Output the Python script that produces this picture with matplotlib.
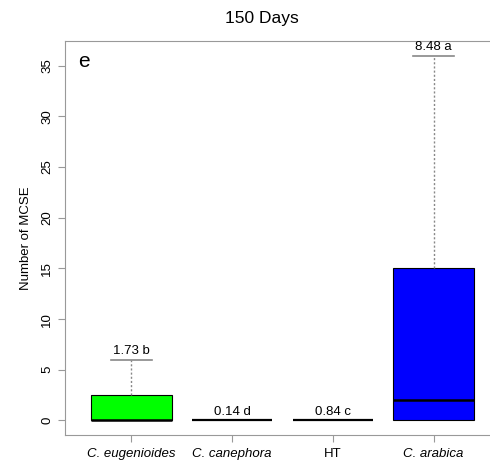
import matplotlib
matplotlib.use("Agg")
import matplotlib.pyplot as plt

plt.rcParams['font.family'] = ['Liberation Sans', 'DejaVu Sans']

groups = ["C. eugenioides", "C. canephora", "HT", "C. arabica"]
italic = [True, True, False, True]
q1 = [0, 0, 0, 0]
med = [0, 0, 0, 2]
q3 = [2.5, 0, 0, 15]
whislo = [0, 0, 0, 0]
whishi = [6, 0, 0, 36]
means = ["1.73 b", "0.14 d", "0.84 c", "8.48 a"]
colors = ["#00ff00", "white", "white", "#0000ff"]

fig = plt.figure(figsize=(4.9, 4.65), dpi=100)
# right edge of the plot region lies past the image, as in the reference
ax = fig.add_axes([65 / 490, 30 / 465, 435 / 490, 394 / 465])

stats = []
for i in range(len(groups)):
    stats.append({"q1": q1[i], "med": med[i], "q3": q3[i],
                  "whislo": whislo[i], "whishi": whishi[i], "fliers": []})

bp = ax.bxp(stats, positions=range(1, 5), widths=0.8, patch_artist=True,
            showfliers=False,
            boxprops=dict(edgecolor="black", linewidth=0.8),
            medianprops=dict(color="black", linewidth=1.8),
            whiskerprops=dict(color="#888888", linestyle=(0, (1.5, 1.5)), linewidth=1),
            capprops=dict(color="#888888", linewidth=1.2),
            capwidths=0.4)
for patch, c in zip(bp["boxes"], colors):
    patch.set_facecolor(c)
for i in range(len(groups)):
    # lower whisker collapses onto q1
    if whislo[i] == q1[i]:
        bp["caps"][2 * i].set_visible(False)
        bp["whiskers"][2 * i].set_visible(False)
    if q3[i] == 0:
        bp["boxes"][i].set_visible(False)
        bp["caps"][2 * i + 1].set_visible(False)
        bp["whiskers"][2 * i + 1].set_visible(False)
        bp["medians"][i].set_xdata([i + 1 - 0.4, i + 1 + 0.4])
        bp["medians"][i].set_linewidth(1.6)

for i, t in enumerate(means):
    ax.text(i + 1, whishi[i] + 0.25, t, ha="center", va="bottom", fontsize=9.5)

ax.set_xlim(0.34, 4.66)
ax.set_ylim(-1.44, 37.44)
ax.set_yticks(range(0, 36, 5))
ax.set_yticklabels([str(v) for v in range(0, 36, 5)], rotation=90, va="center", fontsize=9.5)
ax.set_xticks(range(1, 5))
ax.set_xticklabels(groups, fontsize=9.5)
for lab, it in zip(ax.get_xticklabels(), italic):
    if it:
        lab.set_style("italic")
for s in ax.spines.values():
    s.set_color("#999999")
ax.tick_params(colors="#999999", labelcolor="black", length=5)
ax.tick_params(axis="x", pad=4)
ax.set_ylabel("Number of MCSE", fontsize=9.5)
ax.yaxis.set_label_coords(-0.075, 0.5)

fig.text(262 / 490, 1 - 18 / 465, "150 Days", ha="center", va="center", fontsize=12.5)
ax.text(0.03, 0.947, "e", transform=ax.transAxes, fontsize=15, va="center")

fig.savefig("out.png", dpi=100)
